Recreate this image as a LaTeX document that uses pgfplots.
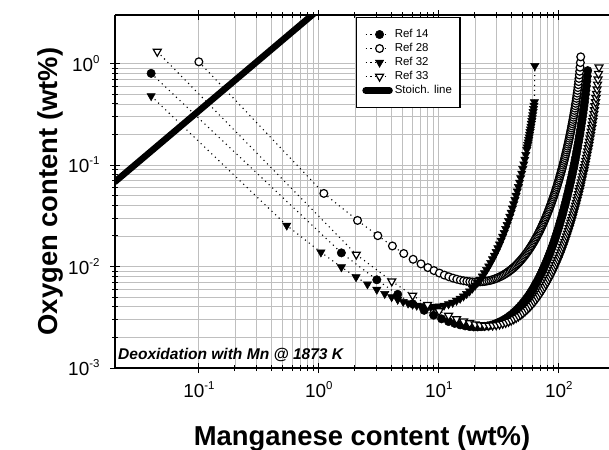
\documentclass[border=0pt]{standalone}
\usepackage{fontspec}
\setmainfont{Liberation Sans}
\usepackage{pgfplots}
\pgfplotsset{compat=1.18}

% tick label: 10 with raised exponent
\newcommand{\tl}[1]{10\raisebox{0.42em}{\fontsize{11.5}{11.5}\selectfont #1}}

\begin{document}
\begin{tikzpicture}
\begin{axis}[
    name=ax, at={(0,0)}, anchor=south west,
    scale only axis, width=494bp, height=353bp,
    xmode=log, ymode=log,
    xmin=0.02, xmax=261.7, ymin=1e-3, ymax=3.006,
    axis x line*=box, axis y line*=left,
    axis line style={line width=2.4bp},
    xtick={0.1,1,10,100}, xticklabels={\tl{-1},\tl{0},\tl{1},\tl{2}},
    ytick={0.001,0.01,0.1,1}, yticklabels={\tl{-3},\tl{-2},\tl{-1},\tl{0}},
    tick label style={font=\fontsize{19}{19}\selectfont},
    xticklabel style={yshift=-5bp},
    yticklabel style={xshift=-7bp},
    tick align=center, major tick length=10bp, minor tick length=6bp,
    tick style={black, line width=1bp},
    grid=both, grid style={gray!50, line width=0.8bp},
    major grid style={gray!50, line width=0.8bp},
    xlabel={\bfseries Manganese content (wt\%)},
    ylabel={\bfseries Oxygen content (wt\%)},
    label style={font=\fontsize{27.5}{27.5}\selectfont},
    xlabel style={at={(axis description cs:0.5,0)}, anchor=base, yshift=-77bp},
    ylabel style={at={(axis description cs:-0.131,0.5)}, anchor=center},
    legend style={at={(0.487,0.995)}, anchor=north west, draw=black, line width=1.5bp,
        fill=white, font=\fontsize{11.5}{13}\selectfont, inner xsep=6bp, inner ysep=10bp,
        nodes={inner sep=2bp, text height=8bp, text depth=2bp}},
    legend cell align=left,
    legend image code/.code={\draw[mark repeat=2,mark phase=2,#1] plot coordinates {(0bp,0bp) (14bp,0bp) (24bp,0bp)};},
    every axis plot/.append style={line width=1.1bp, dash pattern=on 1.1bp off 3.8bp},
]

% Ref 14
\addplot[black, mark=*, mark size=4.2bp, mark options={solid, fill=black, line width=0.5bp}] coordinates {
(0.04,0.80) (1.54,0.01363) (3.04,0.00740) (4.54,0.00532) (6.04,0.00429) (7.54,0.00370) (9.04,0.00331) (10.54,0.00305) (12.04,0.00287) (13.54,0.00275) (15.04,0.00266) (16.54,0.00260) (18.04,0.00256) (19.54,0.00254)
(21.04,0.00254) (22.54,0.00255) (24.04,0.00257) (25.54,0.00260) (27.04,0.00264) (28.54,0.00269) (30.04,0.00275) (31.54,0.00282) (33.04,0.00289) (34.54,0.00297) (36.04,0.00306) (37.54,0.00316) (39.04,0.00327) (40.54,0.00338) (42.04,0.00351) (43.54,0.00364) (45.04,0.00379) (46.54,0.00394) (48.04,0.00411) (49.54,0.00428) (51.04,0.00447) (52.54,0.00467) (54.04,0.00488) (55.54,0.00510) (57.04,0.00534) (58.54,0.00560) (60.04,0.00587) (61.54,0.00616) (63.04,0.00649) (64.54,0.00682) (66.04,0.00716) (67.54,0.00753) (69.04,0.00792) (70.54,0.00834) (72.04,0.00879) (73.54,0.00925) (75.04,0.00976) (76.54,0.01029) (78.04,0.01085) (79.54,0.01145) (81.04,0.01209) (82.54,0.01277) (84.04,0.01349) (85.54,0.01426) (87.04,0.01507) (88.54,0.01594) (90.04,0.01686) (91.54,0.01784) (93.04,0.01889) (94.54,0.02000) (96.04,0.02118) (97.54,0.02245) (99.04,0.02378) (100.54,0.02522) (102.04,0.02675) (103.54,0.02837) (105.04,0.03009) (106.54,0.03194) (108.04,0.0339) (109.54,0.03602) (111.04,0.03825) (112.54,0.04064) (114.04,0.04319) (115.54,0.04591) (117.04,0.04884) (118.54,0.05195) (120.04,0.05526) (121.54,0.05882) (123.04,0.06261) (124.54,0.06669) (126.04,0.07105) (127.54,0.07571) (129.04,0.08069) (130.54,0.08604) (132.04,0.09181) (133.54,0.09796) (135.04,0.1046) (136.54,0.1118) (138.04,0.1194) (139.54,0.1277) (141.04,0.1366) (142.54,0.1462) (144.04,0.1565) (145.54,0.1678) (147.04,0.1799) (148.54,0.1931) (150.04,0.2074) (151.54,0.2229) (153.04,0.2398) (154.54,0.2582) (156.04,0.2785) (157.54,0.3008) (159.04,0.3254) (160.54,0.3524) (162.04,0.3826) (163.54,0.4161) (165.04,0.4538) (166.54,0.4967) (168.04,0.5453) (169.54,0.602) (171.04,0.6689) (172.54,0.7497) (174.04,0.8512)
};
\addlegendentry{Ref 14}

% Ref 28
\addplot[black, mark=*, mark size=3.9bp, mark options={solid, fill=white, draw=black, line width=1.2bp}] coordinates {
(0.1,1.04) (1.1,0.0525) (2.1,0.02846) (3.1,0.02013) (4.1,0.01594) (5.1,0.01343) (6.1,0.01178) (7.1,0.01062) (8.1,0.00976) (9.1,0.00912) (10.1,0.00862) (11.1,0.00823) (12.1,0.00793) (13.1,0.00769) (14.1,0.00750) (15.1,0.00735) (16.1,0.00724) (17.1,0.00715) (18.1,0.00709) (19.1,0.00705) (20.1,0.00704)
(21.1,0.00704) (22.1,0.00705) (23.1,0.00709) (24.1,0.00713) (25.1,0.00719) (26.1,0.00725) (27.1,0.00733) (28.1,0.00742) (29.1,0.00753) (30.1,0.00764) (31.1,0.00777) (32.1,0.00790) (33.1,0.00804) (34.1,0.00819) (35.1,0.00836) (36.1,0.00853) (37.1,0.00872) (38.1,0.00891) (39.1,0.00912) (40.1,0.00933) (41.1,0.00956) (42.1,0.00980) (43.1,0.01005) (44.1,0.01031) (45.1,0.01059) (46.1,0.01088) (47.1,0.01118) (48.1,0.01149) (49.1,0.01182) (50.1,0.01216) (51.1,0.01252) (52.1,0.01290) (53.1,0.01329) (54.1,0.01369) (55.1,0.01412) (56.1,0.01456) (57.1,0.01502) (58.1,0.01550) (59.1,0.01601) (60.1,0.01653) (61.1,0.01708) (62.1,0.01764) (63.1,0.01824) (64.1,0.01885) (65.1,0.01949) (66.1,0.02016) (67.1,0.02086) (68.1,0.02158) (69.1,0.02234) (70.1,0.02313) (71.1,0.02396) (72.1,0.02481) (73.1,0.02571) (74.1,0.02664) (75.1,0.02762) (76.1,0.02863) (77.1,0.02969) (78.1,0.03079) (79.1,0.03193) (80.1,0.03312) (81.1,0.03438) (82.1,0.03568) (83.1,0.03704) (84.1,0.03845) (85.1,0.03993) (86.1,0.04147) (87.1,0.04306) (88.1,0.04472) (89.1,0.04648) (90.1,0.04831) (91.1,0.05022) (92.1,0.05220) (93.1,0.05428) (94.1,0.05645) (95.1,0.05872) (96.1,0.06108) (97.1,0.06357) (98.1,0.06616) (99.1,0.06888) (100.1,0.07171) (101.1,0.07468) (102.1,0.07777) (103.1,0.08101) (104.1,0.08438) (105.1,0.08794) (106.1,0.09166) (107.1,0.09556) (108.1,0.09962) (109.1,0.1039) (110.1,0.1084) (111.1,0.1131) (112.1,0.1181) (113.1,0.1233) (114.1,0.1287) (115.1,0.1344) (116.1,0.1404) (117.1,0.1467) (118.1,0.1533) (119.1,0.1603) (120.1,0.1676) (121.1,0.1754) (122.1,0.1835) (123.1,0.1921) (124.1,0.2012) (125.1,0.2108) (126.1,0.2209) (127.1,0.2316) (128.1,0.2429) (129.1,0.2550) (130.1,0.2677)
(131.1,0.2812) (132.1,0.2956) (133.1,0.311) (134.1,0.3273) (135.1,0.3448) (136.1,0.3635) (137.1,0.3836) (138.1,0.4051) (139.1,0.4284) (140.1,0.4536) (141.1,0.4809) (142.1,0.5106) (143.1,0.5432) (144.1,0.579) (145.1,0.6187) (146.1,0.6631) (147.1,0.7133) (148.1,0.771) (149.1,0.8382) (150.1,0.919) (151.1,1.0215) (152.1,1.164)
};
\addlegendentry{Ref 28}

% Ref 32
\addplot[black, mark=triangle*, mark size=4.8bp, mark options={solid, rotate=180, fill=black, line width=0.5bp}] coordinates {
(0.04,0.479) (0.54,0.0254) (1.04,0.01382) (1.54,0.00986) (2.04,0.00788) (2.54,0.00670) (3.04,0.00593) (3.54,0.00539) (4.04,0.00501) (4.54,0.00472) (5.04,0.00450) (5.54,0.00434) (6.04,0.00422) (6.54,0.00413) (7.04,0.00407) (7.54,0.00403) (8.04,0.00400) (8.54,0.00399) (9.04,0.00400) (9.54,0.00402) (10.04,0.00405)
(11.04,0.00413) (12.04,0.00426) (13.04,0.00441) (14.04,0.00461) (15.04,0.00483) (16.04,0.00509) (17.04,0.00538) (18.04,0.00571) (19.04,0.00608) (20.04,0.00649) (21.04,0.00694) (22.04,0.00743) (23.04,0.00800) (24.04,0.00861) (25.04,0.00928) (26.04,0.01007) (27.04,0.01090) (28.04,0.01182) (29.04,0.01283) (30.04,0.01395) (31.04,0.01518) (32.04,0.01654) (33.04,0.01805) (34.04,0.01970) (35.04,0.02153) (36.04,0.02356) (37.04,0.02580) (38.04,0.02828) (39.04,0.03103) (40.04,0.03408) (41.04,0.03746) (42.04,0.04121) (43.04,0.04538) (44.04,0.05002) (45.04,0.05520) (46.04,0.06096) (47.04,0.06740) (48.04,0.0746) (49.04,0.08267) (50.04,0.09174) (51.04,0.10196) (52.04,0.1135) (53.04,0.12647) (54.04,0.1413)
(54.54,0.1494) (55.04,0.1581) (55.54,0.1674) (56.04,0.1774) (56.54,0.1881) (57.04,0.1996) (57.54,0.212) (58.04,0.2254) (58.54,0.2399) (59.04,0.2556) (59.54,0.2726) (60.04,0.2912) (60.54,0.3116) (61.04,0.3341) (61.54,0.3589) (62.04,0.3866) (62.54,0.4177) (63.04,0.95)
};
\addlegendentry{Ref 32}

% Ref 33
\addplot[black, mark=triangle*, mark size=4.6bp, mark options={solid, rotate=180, fill=white, draw=black, line width=1.2bp}] coordinates {
(0.045,1.31) (2.05,0.01314) (4.05,0.00716) (6.05,0.00518) (8.05,0.00420) (10.05,0.00364) (12.05,0.00328) (14.05,0.00304) (16.05,0.00288) (18.05,0.00277) (20.05,0.00269) (22.05,0.00265) (24.05,0.00262) (26.05,0.00262) (28.05,0.00263) (30.05,0.00265) (32.05,0.00269) (34.05,0.00274) (36.05,0.00279) (38.05,0.00286) (40.05,0.00294) (42.05,0.00303) (44.05,0.00312) (46.05,0.00323) (48.05,0.00335) (50.05,0.00347) (52.05,0.00361) (54.05,0.00376) (56.05,0.00392) (58.05,0.00409) (60.05,0.00428) (62.05,0.00447) (64.05,0.00468) (66.05,0.00491) (68.05,0.00515) (70.05,0.00541) (72.05,0.00569) (74.05,0.00598) (76.05,0.00630) (78.05,0.00664) (80.05,0.00700) (82.05,0.00738) (84.05,0.00779) (86.05,0.00823) (88.05,0.00871) (90.05,0.00921) (92.05,0.00975) (94.05,0.01032) (96.05,0.01093) (98.05,0.01158) (100.05,0.01227) (102.05,0.01301) (104.05,0.01380) (106.05,0.01465) (108.05,0.01556) (110.05,0.01652) (112.05,0.01755) (114.05,0.01866) (116.05,0.01983) (118.05,0.02110) (120.05,0.02245) (122.05,0.02389) (124.05,0.02544) (126.05,0.02710) (128.05,0.02887) (130.05,0.03077) (132.05,0.03280) (134.05,0.03499) (136.05,0.03731) (138.05,0.03980) (140.05,0.04248) (142.05,0.04536) (144.05,0.04846) (146.05,0.05177) (148.05,0.05534) (150.05,0.05917) (152.05,0.06329) (154.05,0.06772) (156.05,0.07249) (158.05,0.07763) (160.05,0.08318) (162.05,0.08913) (164.05,0.09557) (166.05,0.1025) (168.05,0.1100) (170.05,0.1181) (172.05,0.1269) (174.05,0.1364) (176.05,0.1467) (178.05,0.1579) (180.05,0.1702) (182.05,0.1834) (184.05,0.1980) (186.05,0.2138) (188.05,0.2312) (190.05,0.2503) (192.05,0.2712) (194.05,0.2944) (196.05,0.3200) (198.05,0.3486) (200.05,0.3806) (202.05,0.4166) (204.05,0.4574) (206.05,0.5042) (208.05,0.5583) (210.05,0.622) (212.05,0.6985) (214.05,0.794) (216.05,0.919)
};
\addlegendentry{Ref 33}

% stoichiometric line
\addplot[black, solid, line width=6.5bp, line cap=round, mark=none] coordinates {(0.02,0.0684) (1,3.42)};
\addlegendentry{Stoich. line}

\node[anchor=base west, inner sep=0pt, font=\fontsize{15.6}{15.6}\selectfont\bfseries\itshape]
    at (rel axis cs:0.006,0.025) {Deoxidation with Mn @ 1873 K};
\end{axis}
\pgfresetboundingbox
\path[use as bounding box] ([shift={(-115bp,-82bp)}]ax.south west) rectangle ([shift={(0bp,15bp)}]ax.north east);
\end{tikzpicture}
\end{document}
